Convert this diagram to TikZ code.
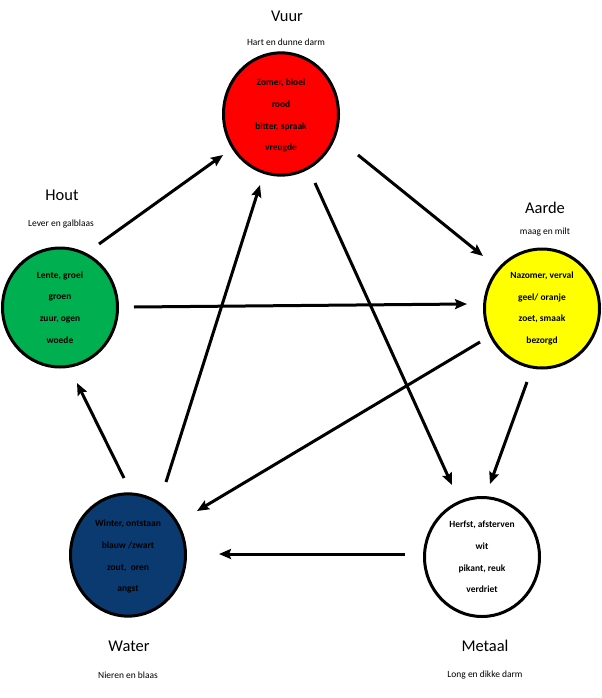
\documentclass[tikz,border=0pt]{standalone}
\usepackage{fontspec}
\setmainfont{Carlito}
\usetikzlibrary{arrows.meta,shapes.geometric}
\definecolor{firered}{RGB}{255,0,0}
\definecolor{woodgreen}{RGB}{0,176,80}
\definecolor{earthyellow}{RGB}{255,255,0}
\definecolor{waterblue}{RGB}{10,58,112}
\tikzset{
  phase/.style={ellipse, draw=black, line width=3bp, minimum width=115bp, minimum height=119bp,
    inner sep=0pt, align=center, font=\fontsize{9.5}{21.7}\selectfont\bfseries, text=black},
  title/.style={font=\fontsize{16.5}{18}\selectfont, inner sep=0pt},
  organ/.style={font=\fontsize{9.5}{11}\selectfont, inner sep=0pt},
  arr/.style={line width=3bp, -{Stealth[length=12bp,width=10bp,inset=2bp]}}
}
\begin{document}
\begin{tikzpicture}[x=1bp,y=-1bp]
\useasboundingbox (0,0) rectangle (602,698);
% circles
\node[phase, fill=firered] (vuur) at (281,114) {\raisebox{10bp}{\begin{tabular}{@{}c@{}}Zomer, bloei\\rood\\bitter, spraak\\vreugde\end{tabular}}};
\node[phase, fill=woodgreen] (hout) at (60,307.5) {Lente, groei\\groen\\zuur, ogen\\woede};
\node[phase, fill=earthyellow] (aarde) at (542,308.5) {Nazomer, verval\\geel/ oranje\\zoet, smaak\\bezorgd};
\node[phase, fill=waterblue] (water) at (128,555) {\raisebox{10bp}{\begin{tabular}{@{}c@{}}Winter, ontstaan\\blauw /zwart\\zout, \ oren\\angst\end{tabular}}};
\node[phase, fill=white] (metaal) at (482,557) {Herfst, afsterven\\wit\\pikant, reuk\\verdriet};
% titles
\node[title] (tvuur) at (287,16) {Vuur};
\node[organ] (ovuur) at (286,42) {Hart en dunne darm};
\node[title] (thout) at (62,195) {Hout};
\node[organ] (ohout) at (61,224) {Lever en galblaas};
\node[title] (taarde) at (545,208) {Aarde};
\node[organ] (oaarde) at (545,232) {maag en milt};
\node[title] (twater) at (129,646) {Water};
\node[organ] (owater) at (128,675) {Nieren en blaas};
\node[title] (tmetaal) at (485,646) {Metaal};
\node[organ] (ometaal) at (485,675) {Long en dikke darm};
% arrows
\draw[arr] ([shift={(39,-63.5)}]hout.center) -- ([shift={(-58,41)}]vuur.center);
\draw[arr] ([shift={(77,41)}]vuur.center) -- ([shift={(-59,-52.5)}]aarde.center);
\draw[arr] ([shift={(74,-0.5)}]hout.center) -- ([shift={(-75,-4.5)}]aarde.center);
\draw[arr] ([shift={(-62,33.5)}]aarde.center) -- ([shift={(69,-44)}]water.center);
\draw[arr] ([shift={(34,69)}]vuur.center) -- ([shift={(-30,-72)}]metaal.center);
\draw[arr] ([shift={(-15,73.5)}]aarde.center) -- ([shift={(8,-73)}]metaal.center);
\draw[arr] ([shift={(-77,-3)}]metaal.center) -- ([shift={(91,-1)}]water.center);
\draw[arr] ([shift={(38,-73)}]water.center) -- ([shift={(-21,71)}]vuur.center);
\draw[arr] ([shift={(-4,-77)}]water.center) -- ([shift={(17,75.5)}]hout.center);
\end{tikzpicture}
\end{document}
